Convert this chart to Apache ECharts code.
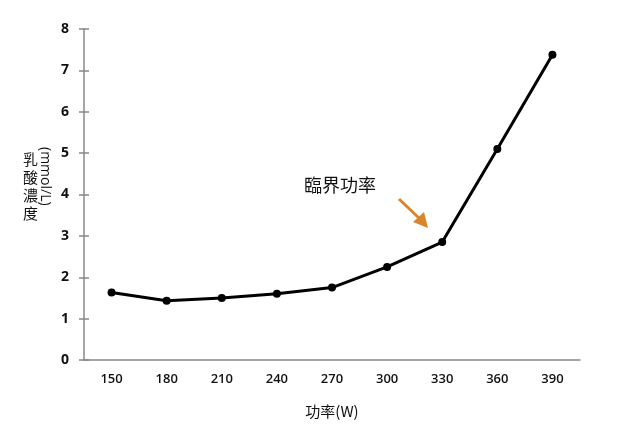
<!DOCTYPE html>
<html><head><meta charset="utf-8">
<script src="https://cdn.jsdelivr.net/npm/echarts@6/dist/echarts.min.js"></script>
<style>html,body{margin:0;padding:0;background:#fff}#c{width:640px;height:440px}</style>
</head><body><div id="c"></div>
<script>
var categories = ['150','180','210','240','270','300','330','360','390'];
var lactate = [1.63, 1.43, 1.5, 1.6, 1.75, 2.25, 2.85, 5.1, 7.38];
var yTicks = [0, 1, 2, 3, 4, 5, 6, 7, 8];

var chart = echarts.init(document.getElementById('c'));
var axisColor = '#888888';
var cjk = 'Noto Sans CJK TC';
chart.setOption({
  animation: false,
  backgroundColor: '#fff',
  grid: {left: 84, right: 60, top: 29, bottom: 80, containLabel: false},
  xAxis: [{
    type: 'category', data: categories, boundaryGap: true,
    axisLine: {lineStyle: {color: axisColor, width: 1.5}},
    axisTick: {alignWithLabel: true, length: 5, lineStyle: {color: axisColor, width: 1.5}},
    axisLabel: {margin: 13, color: '#111', fontSize: 13, fontWeight: 600, fontFamily: 'Open Sans'},
    name: '功率(W)', nameLocation: 'middle', nameGap: 44,
    nameTextStyle: {fontFamily: cjk, fontSize: 15, color: '#111'},
    splitLine: {show: false}
  }, {
    type: 'category', data: categories, boundaryGap: true, position: 'bottom',
    axisLine: {show: false},
    axisTick: {inside: true, alignWithLabel: true, length: 5, lineStyle: {color: axisColor, width: 1.5}},
    axisLabel: {show: false}
  }],
  yAxis: [{
    type: 'value', min: yTicks[0], max: yTicks[yTicks.length - 1], interval: 1,
    axisLine: {show: true, lineStyle: {color: axisColor, width: 1.5}},
    axisTick: {show: true, length: 5, lineStyle: {color: axisColor, width: 1.5}},
    axisLabel: {margin: 15, color: '#111', fontSize: 14, fontWeight: 'bold', fontFamily: 'Open Sans'},
    splitLine: {show: false}
  }, {
    type: 'value', min: yTicks[0], max: yTicks[yTicks.length - 1], interval: 1, position: 'left',
    axisLine: {show: false},
    axisTick: {show: true, inside: true, length: 5, lineStyle: {color: axisColor, width: 1.5}},
    axisLabel: {show: false}, splitLine: {show: false}
  }],
  series: [{
    type: 'line', data: lactate,
    symbol: 'circle', symbolSize: 8,
    lineStyle: {color: '#000', width: 3},
    itemStyle: {color: '#000'}
  }],
  graphic: [
    {type: 'text', left: 23, top: 150, style: {text: '乳\n酸\n濃\n度', fontFamily: cjk, fontSize: 15, lineHeight: 18, fill: '#111'}},
    {type: 'text', x: 38, y: 147, rotation: -Math.PI / 2, style: {text: '(mmol/L)', fontFamily: 'Open Sans', fontSize: 14, fill: '#111', textAlign: 'left', textVerticalAlign: 'bottom'}},
    {type: 'text', left: 304, top: 176, style: {text: '臨界功率', fontFamily: cjk, fontSize: 18, fill: '#111'}},
    {type: 'line', shape: {x1: 399, y1: 199, x2: 420, y2: 219}, style: {stroke: '#D9862A', lineWidth: 3}},
    {type: 'polygon', shape: {points: [[428, 228], [413, 222], [424, 212]]}, style: {fill: '#D9862A'}}
  ]
});
</script></body></html>
